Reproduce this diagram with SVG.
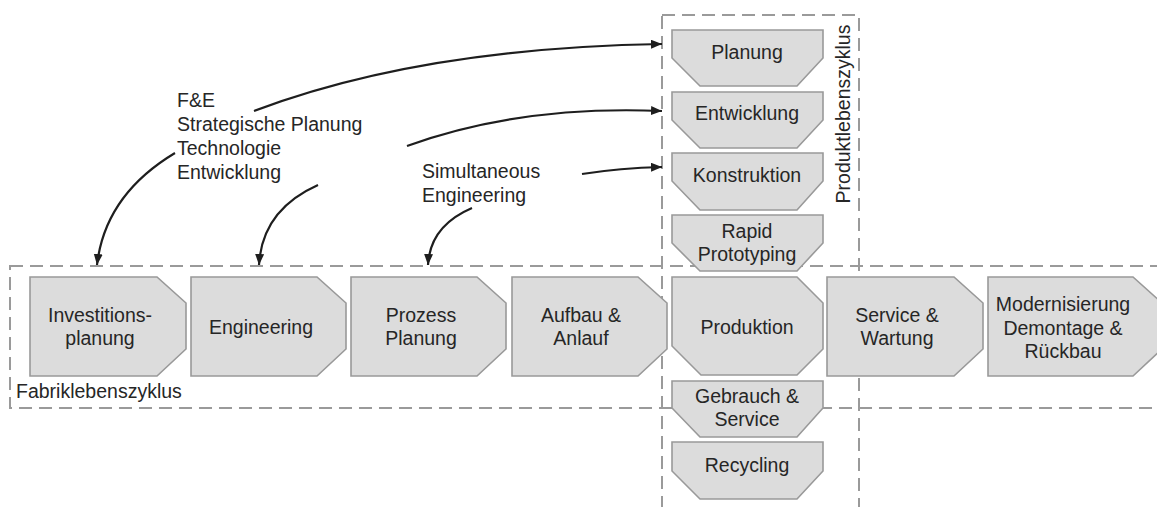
<svg xmlns="http://www.w3.org/2000/svg" width="1157" height="507" viewBox="0 0 1157 507">
  <style>
    .frame { fill: none; stroke: #9a9a9a; stroke-width: 2; stroke-dasharray: 13 7; }
    .box { fill: #dcdcdc; stroke: #999999; stroke-width: 1.6; stroke-linejoin: miter; }
    .lbl { font-family: "Liberation Sans", Arial, sans-serif; font-size: 19.5px; fill: #262626; text-anchor: middle; }
    .note { font-family: "Liberation Sans", Arial, sans-serif; font-size: 19.5px; fill: #262626; }
    .conn { fill: none; stroke: #1e1e1e; stroke-width: 2.2; marker-end: url(#arrow); }
  </style>
  <defs>
    <marker id="arrow" markerUnits="userSpaceOnUse" markerWidth="12" markerHeight="10" refX="11" refY="4.5" orient="auto">
      <path d="M0,0 L11,4.5 L0,9 Z" fill="#1e1e1e"/>
    </marker>
  </defs>

  <rect width="1157" height="507" fill="#ffffff"/>

  <!-- life-cycle frames -->
  <g id="fabriklebenszyklus">
    <rect class="frame" x="10" y="266" width="1160" height="142"/>
    <text class="note" x="16" y="398">Fabriklebenszyklus</text>
  </g>
  <g id="produktlebenszyklus">
    <rect class="frame" x="662" y="15" width="197" height="510"/>
    <text class="lbl" transform="translate(850,114) rotate(-90)">Produktlebenszyklus</text>
  </g>

  <!-- factory life-cycle chevrons -->
  <g id="investitionsplanung">
    <polygon class="box" points="30,277 157,277 186,303 186,349 157,376 30,376"/>
    <text class="lbl" x="100" y="322">Investitions-</text>
    <text class="lbl" x="100" y="345">planung</text>
  </g>
  <g id="engineering">
    <polygon class="box" points="191,277 317,277 346,303 346,349 317,376 191,376"/>
    <text class="lbl" x="261" y="334">Engineering</text>
  </g>
  <g id="prozessplanung">
    <polygon class="box" points="351,277 477,277 506,303 506,349 477,376 351,376"/>
    <text class="lbl" x="421" y="322">Prozess</text>
    <text class="lbl" x="421" y="345">Planung</text>
  </g>
  <g id="aufbau">
    <polygon class="box" points="512,277 638,277 667,303 667,349 638,376 512,376"/>
    <text class="lbl" x="581" y="322">Aufbau &amp;</text>
    <text class="lbl" x="581" y="345">Anlauf</text>
  </g>
  <g id="produktion">
    <polygon class="box" points="672,277 797,277 823,303 823,349 797,375 701,375 672,346"/>
    <text class="lbl" x="747" y="334">Produktion</text>
  </g>
  <g id="service-wartung">
    <polygon class="box" points="827,277 954,277 983,303 983,349 954,376 827,376"/>
    <text class="lbl" x="897" y="322">Service &amp;</text>
    <text class="lbl" x="897" y="345">Wartung</text>
  </g>
  <g id="modernisierung">
    <polygon class="box" points="988,277 1133,277 1162,303 1162,349 1133,376 988,376"/>
    <text class="lbl" x="1063" y="311">Modernisierung</text>
    <text class="lbl" x="1063" y="335">Demontage &amp;</text>
    <text class="lbl" x="1063" y="358">Rückbau</text>
  </g>

  <!-- product life-cycle stages -->
  <g id="planung">
    <polygon class="box" points="672,30 823,30 823,58 797,86 700,86 672,58"/>
    <text class="lbl" x="747" y="59">Planung</text>
  </g>
  <g id="entwicklung">
    <polygon class="box" points="672,92 823,92 823,120 797,148 700,148 672,120"/>
    <text class="lbl" x="747" y="120">Entwicklung</text>
  </g>
  <g id="konstruktion">
    <polygon class="box" points="672,153 823,153 823,181 797,210 700,210 672,181"/>
    <text class="lbl" x="747" y="182">Konstruktion</text>
  </g>
  <g id="rapid-prototyping">
    <polygon class="box" points="672,215 823,215 823,243 797,271 700,271 672,243"/>
    <text class="lbl" x="747" y="238">Rapid</text>
    <text class="lbl" x="747" y="261">Prototyping</text>
  </g>
  <g id="gebrauch-service">
    <polygon class="box" points="672,381 823,381 823,408 797,437 700,437 672,408"/>
    <text class="lbl" x="747" y="403">Gebrauch &amp;</text>
    <text class="lbl" x="747" y="426">Service</text>
  </g>
  <g id="recycling">
    <polygon class="box" points="672,442 823,442 823,471 797,499 700,499 672,471"/>
    <text class="lbl" x="747" y="472">Recycling</text>
  </g>

  <!-- annotations -->
  <g id="fe-label">
    <text class="note" x="177" y="107">F&amp;E</text>
    <text class="note" x="177" y="131">Strategische Planung</text>
    <text class="note" x="177" y="155">Technologie</text>
    <text class="note" x="177" y="179">Entwicklung</text>
  </g>
  <g id="se-label">
    <text class="note" x="422" y="178">Simultaneous</text>
    <text class="note" x="422" y="202">Engineering</text>
  </g>

  <!-- connectors -->
  <g id="connectors">
    <path class="conn" d="M254,111 Q420,48 662,44"/>
    <path class="conn" d="M407,146 Q520,105 662,111"/>
    <path class="conn" d="M582,174 Q620,168 662,167"/>
    <path class="conn" d="M175,153 Q105,195 97,265"/>
    <path class="conn" d="M318,185 Q262,210 259,265"/>
    <path class="conn" d="M472,208 Q430,226 428,265"/>
  </g>
</svg>
